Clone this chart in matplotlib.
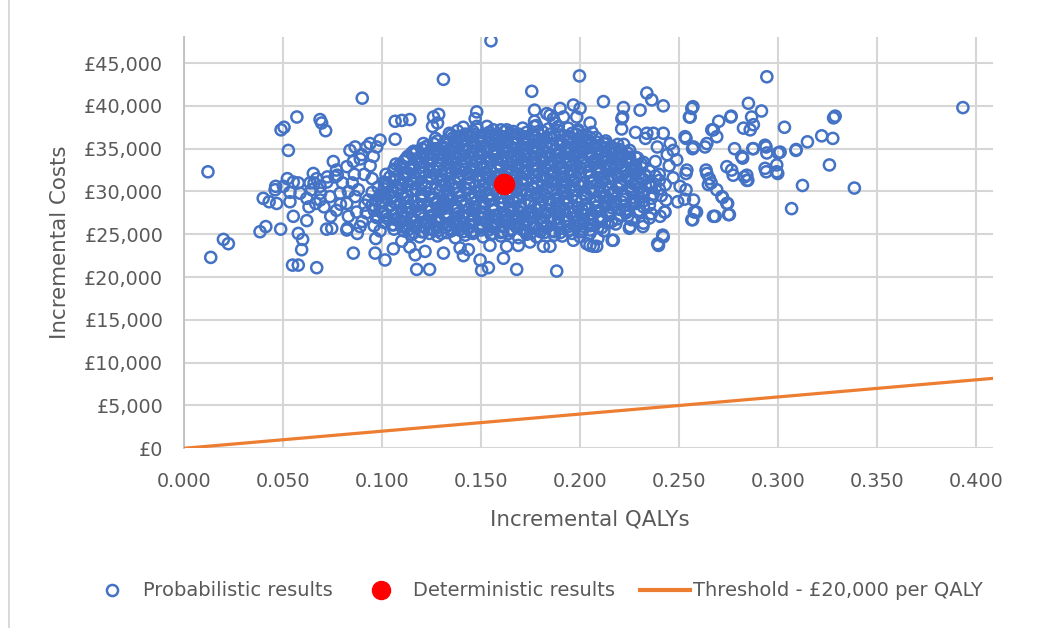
import matplotlib
matplotlib.use("Agg")
import matplotlib.pyplot as plt
from matplotlib.lines import Line2D
from matplotlib.ticker import FuncFormatter, MultipleLocator
import numpy as np

BLUE = "#4472C4"; RED = "#FF0000"; ORANGE = "#ED7D31"
TXT = "#595959"; GRID = "#D6D6D6"; AXIS = "#BFBFBF"
plt.rcParams["font.family"] = "DejaVu Sans"

# probabilistic (PSA) results: incremental QALYs and incremental costs (£ thousands)
prob_qalys = [
    # outliers / fringe
    0.0121, 0.0135, 0.0199, 0.0224, 0.0384, 0.0413, 0.0488, 0.0400, 0.0430, 0.0468,
    0.0460, 0.0522, 0.0535, 0.0577, 0.0527, 0.0490, 0.0505, 0.0570, 0.0687, 0.0695,
    0.0715, 0.0548, 0.0577, 0.0670, 0.0577, 0.0599, 0.0594, 0.0552, 0.0620, 0.0720,
    0.0900, 0.1310, 0.1550, 0.0631, 0.0665, 0.0707, 0.0690, 0.0657, 0.0724, 0.0774,
    0.0741, 0.0825, 0.0875, 0.0968, 0.0855, 0.0965, 0.1015, 0.1057, 0.1140, 0.1175,
    0.1240, 0.1066, 0.1100, 0.1140, 0.1066, 0.1260, 0.1286, 0.1280, 0.1255, 0.0463,
    0.0653, 0.0670, 0.0687, 0.0645, 0.0721, 0.0754, 0.0770, 0.0763, 0.0822, 0.0855,
    0.0838, 0.0864, 0.0923, 0.0939, 0.0897, 0.0956, 0.0737, 0.0788, 0.0822, 0.0864,
    0.0770, 0.0830, 0.0872, 0.0914, 0.0889, 0.0822, 0.0746, 0.0687, 0.0620, 0.0636,
    0.0552, 0.0586, 0.0535, 0.0502, 0.0973, 0.0990, 0.0850, 0.0880, 0.0910, 0.0930,
    0.0950, 0.0970, 0.0900, 0.0940, 0.0800, 0.0830, 0.0790, 0.0860, 0.0920, 0.0960,
    0.0990, 0.0890, 0.1478, 0.1470, 0.1770, 0.1770, 0.1768, 0.1899, 0.1966, 0.2000,
    0.1848, 0.1916, 0.1756, 0.1997, 0.2118, 0.2337, 0.2362, 0.2420, 0.2564, 0.2556,
    0.2219, 0.2211, 0.2303, 0.1983, 0.2050, 0.1832, 0.1865, 0.1874, 0.1150, 0.1478,
    0.1562, 0.1630, 0.1663, 0.1790, 0.1377, 0.1209, 0.2370, 0.2420, 0.2455, 0.2530,
    0.2471, 0.2573, 0.2640, 0.2673, 0.2700, 0.2488, 0.2539, 0.2505, 0.2573, 0.2640,
    0.2690, 0.2253, 0.2320, 0.2404, 0.2429, 0.2564, 0.2588, 0.2682, 0.2396, 0.2420,
    0.1495, 0.1503, 0.1537, 0.1613, 0.1680, 0.1882, 0.2168, 0.2084, 0.2034, 0.1966,
    0.2943, 0.3933, 0.3288, 0.3280, 0.2850, 0.2916, 0.2866, 0.2875, 0.2825, 0.2859,
    0.3032, 0.2761, 0.2665, 0.2690, 0.2631, 0.3220, 0.3148, 0.3090, 0.3276, 0.2780,
    0.2875, 0.2934, 0.2943, 0.3000, 0.2816, 0.3259, 0.2993, 0.2993, 0.2934, 0.2842,
    0.2842, 0.2741, 0.2765, 0.2773, 0.2648, 0.3123, 0.3385, 0.3068, 0.2716, 0.2741,
    0.2749, 0.2673, 0.2535, 0.2568, 0.2535, 0.2636, 0.2653, 0.2662, 0.2830, 0.2847,
    0.2940, 0.2998, 0.2417, 0.2392, 0.2162, 0.2249, 0.2317, 0.2350, 0.2232, 0.2426,
    0.2434, 0.2493, 0.2527, 0.2535, 0.2090, 0.2577, 0.2569, 0.2754, 0.2720, 0.2745,
    0.3010, 0.2821, 0.2872, 0.2939, 0.3091, 0.1167, 0.1310, 0.1411, 0.1815, 0.1848,
    0.2050, 0.2067, 0.1217, 0.1394, 0.1436, 0.1545, 0.1629, 0.1688, 0.1747, 0.1100,
    0.2220, 0.2250, 0.2280, 0.2310, 0.2260, 0.2330, 0.2290, 0.2360, 0.2320, 0.2270,
    0.2350, 0.2300, 0.2380, 0.2400, 0.2430, 0.2410, 0.2450, 0.2470, 0.2390, 0.2330,
    0.2440, 0.2360, 0.2260, 0.2280, 0.2210, 0.2337, 0.2215, 0.2570, 0.2552, 0.2763,
    # dense core, first layer
    0.115, 0.119, 0.124, 0.128, 0.133, 0.137, 0.142, 0.146, 0.151, 0.155,
    0.160, 0.164, 0.169, 0.173, 0.178, 0.182, 0.187, 0.191, 0.196, 0.200,
    0.106, 0.110, 0.113, 0.117, 0.121, 0.124, 0.128, 0.132, 0.135, 0.139,
    0.143, 0.146, 0.150, 0.154, 0.157, 0.161, 0.165, 0.168, 0.172, 0.176,
    0.179, 0.183, 0.187, 0.190, 0.194, 0.198, 0.201, 0.205, 0.209, 0.212,
    0.101, 0.105, 0.109, 0.113, 0.117, 0.121, 0.125, 0.129, 0.133, 0.137,
    0.141, 0.145, 0.149, 0.153, 0.157, 0.161, 0.165, 0.169, 0.173, 0.177,
    0.181, 0.185, 0.189, 0.193, 0.197, 0.202, 0.206, 0.210, 0.214, 0.218,
    0.098, 0.102, 0.107, 0.111, 0.115, 0.120, 0.124, 0.128, 0.133, 0.137,
    0.141, 0.146, 0.150, 0.154, 0.159, 0.163, 0.167, 0.172, 0.176, 0.180,
    0.185, 0.189, 0.193, 0.198, 0.202, 0.206, 0.211, 0.215, 0.219, 0.224,
    0.096, 0.101, 0.105, 0.110, 0.114, 0.119, 0.124, 0.128, 0.133, 0.137,
    0.142, 0.146, 0.151, 0.156, 0.160, 0.165, 0.169, 0.174, 0.178, 0.183,
    0.188, 0.192, 0.197, 0.201, 0.206, 0.210, 0.215, 0.220, 0.224, 0.229,
    0.095, 0.100, 0.104, 0.109, 0.114, 0.119, 0.123, 0.128, 0.133, 0.137,
    0.142, 0.147, 0.152, 0.156, 0.161, 0.166, 0.170, 0.175, 0.180, 0.185,
    0.189, 0.194, 0.199, 0.203, 0.208, 0.213, 0.218, 0.222, 0.227, 0.232,
    0.097, 0.102, 0.106, 0.111, 0.116, 0.121, 0.126, 0.131, 0.135, 0.140,
    0.145, 0.150, 0.155, 0.160, 0.164, 0.169, 0.174, 0.179, 0.184, 0.189,
    0.193, 0.198, 0.203, 0.208, 0.213, 0.218, 0.222, 0.227, 0.232, 0.236,
    0.095, 0.100, 0.105, 0.110, 0.115, 0.120, 0.124, 0.129, 0.134, 0.139,
    0.144, 0.149, 0.154, 0.158, 0.163, 0.168, 0.173, 0.178, 0.183, 0.188,
    0.192, 0.197, 0.202, 0.207, 0.212, 0.217, 0.222, 0.226, 0.231, 0.237,
    0.098, 0.103, 0.108, 0.113, 0.117, 0.122, 0.127, 0.132, 0.137, 0.142,
    0.147, 0.152, 0.156, 0.161, 0.166, 0.171, 0.176, 0.181, 0.186, 0.191,
    0.195, 0.200, 0.205, 0.210, 0.215, 0.220, 0.225, 0.230, 0.235, 0.240,
    0.101, 0.106, 0.110, 0.115, 0.120, 0.125, 0.130, 0.134, 0.139, 0.144,
    0.149, 0.154, 0.159, 0.163, 0.168, 0.173, 0.178, 0.183, 0.187, 0.192,
    0.197, 0.202, 0.207, 0.211, 0.216, 0.221, 0.226, 0.231, 0.235, 0.240,
    0.102, 0.107, 0.111, 0.116, 0.121, 0.125, 0.130, 0.135, 0.139, 0.144,
    0.149, 0.153, 0.158, 0.163, 0.167, 0.172, 0.177, 0.181, 0.186, 0.191,
    0.195, 0.200, 0.205, 0.209, 0.214, 0.219, 0.223, 0.228, 0.233, 0.238,
    0.106, 0.110, 0.115, 0.119, 0.124, 0.128, 0.133, 0.137, 0.142, 0.146,
    0.151, 0.155, 0.160, 0.164, 0.169, 0.173, 0.178, 0.182, 0.187, 0.191,
    0.196, 0.200, 0.205, 0.209, 0.214, 0.218, 0.223, 0.227, 0.231, 0.235,
    0.107, 0.111, 0.116, 0.120, 0.124, 0.129, 0.133, 0.137, 0.142, 0.146,
    0.150, 0.155, 0.159, 0.163, 0.168, 0.172, 0.176, 0.181, 0.185, 0.189,
    0.194, 0.198, 0.202, 0.207, 0.211, 0.215, 0.220, 0.224, 0.228, 0.232,
    0.113, 0.117, 0.121, 0.125, 0.129, 0.133, 0.137, 0.141, 0.145, 0.149,
    0.153, 0.157, 0.161, 0.165, 0.169, 0.173, 0.177, 0.181, 0.185, 0.189,
    0.193, 0.197, 0.201, 0.205, 0.209, 0.213, 0.217, 0.221, 0.225, 0.229,
    0.116, 0.120, 0.124, 0.127, 0.131, 0.135, 0.139, 0.142, 0.146, 0.150,
    0.153, 0.157, 0.161, 0.164, 0.168, 0.172, 0.176, 0.179, 0.183, 0.187,
    0.190, 0.194, 0.198, 0.201, 0.205, 0.209, 0.213, 0.216, 0.220, 0.224,
    0.123, 0.126, 0.130, 0.133, 0.136, 0.140, 0.143, 0.146, 0.150, 0.153,
    0.156, 0.160, 0.163, 0.166, 0.170, 0.173, 0.176, 0.180, 0.183, 0.186,
    0.190, 0.193, 0.196, 0.200, 0.203, 0.206, 0.210, 0.213, 0.216, 0.219,
    0.127, 0.132, 0.136, 0.141, 0.145, 0.150, 0.154, 0.159, 0.163, 0.168,
    0.172, 0.177, 0.181, 0.186, 0.190, 0.195, 0.199, 0.204, 0.208, 0.213,
    0.134, 0.138, 0.142, 0.146, 0.150, 0.154, 0.158, 0.162, 0.165, 0.169,
    0.173, 0.177, 0.181, 0.185, 0.189, 0.192, 0.196, 0.199, 0.203, 0.206,
    0.141, 0.148, 0.153, 0.160, 0.171, 0.178, 0.184, 0.189, 0.194, 0.199,
    # dense core, second layer
    0.111, 0.116, 0.120, 0.126, 0.130, 0.135, 0.141, 0.145, 0.150, 0.156,
    0.160, 0.165, 0.171, 0.175, 0.180, 0.186, 0.190, 0.195, 0.201, 0.205,
    0.106, 0.112, 0.117, 0.123, 0.128, 0.134, 0.139, 0.145, 0.150, 0.156,
    0.161, 0.167, 0.172, 0.178, 0.183, 0.189, 0.194, 0.200, 0.205, 0.211,
    0.103, 0.109, 0.115, 0.121, 0.127, 0.133, 0.139, 0.145, 0.151, 0.157,
    0.163, 0.169, 0.175, 0.181, 0.187, 0.193, 0.199, 0.205, 0.211, 0.216,
    0.100, 0.106, 0.113, 0.119, 0.125, 0.132, 0.138, 0.144, 0.151, 0.157,
    0.163, 0.170, 0.176, 0.182, 0.189, 0.195, 0.201, 0.208, 0.214, 0.220,
    0.099, 0.105, 0.112, 0.118, 0.125, 0.131, 0.138, 0.144, 0.151, 0.157,
    0.164, 0.170, 0.177, 0.183, 0.190, 0.196, 0.203, 0.209, 0.216, 0.223,
    0.100, 0.107, 0.113, 0.120, 0.127, 0.134, 0.140, 0.147, 0.154, 0.161,
    0.167, 0.174, 0.181, 0.188, 0.194, 0.201, 0.208, 0.215, 0.221, 0.228,
    0.099, 0.106, 0.113, 0.120, 0.126, 0.133, 0.140, 0.147, 0.154, 0.161,
    0.168, 0.175, 0.182, 0.189, 0.196, 0.203, 0.210, 0.216, 0.223, 0.230,
    0.101, 0.108, 0.115, 0.122, 0.129, 0.136, 0.143, 0.150, 0.157, 0.164,
    0.170, 0.177, 0.184, 0.191, 0.198, 0.205, 0.212, 0.219, 0.226, 0.232,
    0.102, 0.109, 0.116, 0.123, 0.130, 0.137, 0.144, 0.151, 0.158, 0.165,
    0.171, 0.178, 0.185, 0.192, 0.199, 0.206, 0.213, 0.220, 0.227, 0.233,
    0.104, 0.111, 0.117, 0.124, 0.131, 0.138, 0.144, 0.151, 0.158, 0.165,
    0.171, 0.178, 0.185, 0.192, 0.198, 0.205, 0.212, 0.219, 0.225, 0.232,
    0.106, 0.113, 0.119, 0.126, 0.132, 0.139, 0.145, 0.152, 0.158, 0.165,
    0.171, 0.178, 0.184, 0.191, 0.197, 0.204, 0.210, 0.217, 0.223, 0.230,
    0.109, 0.115, 0.121, 0.128, 0.134, 0.140, 0.146, 0.153, 0.159, 0.165,
    0.171, 0.178, 0.184, 0.190, 0.196, 0.203, 0.209, 0.215, 0.221, 0.228,
    0.112, 0.118, 0.124, 0.130, 0.136, 0.142, 0.148, 0.154, 0.160, 0.166,
    0.171, 0.177, 0.183, 0.189, 0.195, 0.201, 0.207, 0.213, 0.219, 0.225,
    0.117, 0.123, 0.128, 0.134, 0.139, 0.145, 0.150, 0.156, 0.161, 0.167,
    0.172, 0.178, 0.183, 0.189, 0.194, 0.200, 0.205, 0.211, 0.216, 0.222,
    0.122, 0.127, 0.132, 0.137, 0.142, 0.147, 0.152, 0.157, 0.162, 0.167,
    0.172, 0.177, 0.183, 0.188, 0.193, 0.198, 0.203, 0.208, 0.213, 0.218,
    0.128, 0.132, 0.137, 0.141, 0.146, 0.150, 0.155, 0.159, 0.163, 0.168,
    0.172, 0.177, 0.181, 0.186, 0.190, 0.194, 0.199, 0.203, 0.208, 0.212,
    0.135, 0.139, 0.143, 0.146, 0.150, 0.154, 0.157, 0.161, 0.165, 0.168,
    0.172, 0.176, 0.179, 0.183, 0.187, 0.190, 0.194, 0.198, 0.201, 0.205,
]
prob_costs_k = [
    32.3, 22.3, 24.4, 23.9, 25.3, 25.9, 25.6, 29.2, 28.8, 28.6,
    30.2, 31.5, 29.9, 31.0, 34.8, 37.2, 37.5, 38.7, 38.4, 38.0,
    37.1, 21.4, 21.4, 21.1, 25.1, 24.4, 23.2, 27.1, 26.6, 25.6,
    40.9, 43.1, 47.6, 28.2, 28.6, 28.2, 29.8, 31.0, 31.7, 31.9,
    27.1, 25.7, 25.1, 24.5, 22.8, 22.8, 22.0, 23.3, 23.5, 20.9,
    20.9, 38.2, 38.3, 38.4, 36.1, 38.7, 39.0, 38.0, 37.6, 30.6,
    32.1, 31.5, 30.6, 30.2, 31.1, 33.5, 32.5, 31.7, 32.9, 33.5,
    34.8, 35.2, 35.2, 35.6, 34.3, 34.1, 29.4, 29.8, 28.6, 29.4,
    27.8, 27.1, 27.6, 28.4, 25.9, 25.5, 25.7, 29.0, 29.2, 31.0,
    31.1, 29.8, 28.8, 30.6, 35.2, 36.0, 31.0, 30.2, 32.0, 29.0,
    31.5, 27.0, 26.5, 33.0, 31.0, 30.0, 28.5, 32.0, 27.5, 26.0,
    25.4, 33.8, 39.3, 38.5, 39.5, 38.2, 37.6, 39.7, 40.1, 39.7,
    38.9, 38.7, 41.7, 43.5, 40.5, 41.5, 40.7, 40.0, 39.7, 38.7,
    39.8, 38.5, 39.5, 38.7, 38.0, 39.1, 38.5, 38.0, 34.5, 37.6,
    37.2, 37.2, 37.0, 36.0, 36.4, 35.6, 36.8, 36.8, 35.6, 36.4,
    34.8, 35.2, 35.6, 37.2, 38.2, 33.7, 32.5, 30.6, 29.0, 32.1,
    30.2, 25.9, 26.3, 27.1, 27.6, 26.7, 27.6, 27.1, 23.7, 24.7,
    22.0, 20.8, 21.1, 22.2, 20.9, 20.7, 24.3, 23.6, 23.9, 24.3,
    43.4, 39.8, 38.8, 38.6, 40.3, 39.4, 38.7, 37.8, 37.4, 37.2,
    37.5, 38.7, 37.2, 36.4, 35.2, 36.5, 35.8, 34.8, 36.2, 35.0,
    35.0, 35.4, 34.5, 34.5, 34.1, 33.1, 33.1, 32.3, 32.7, 31.9,
    31.3, 32.9, 32.5, 31.9, 30.8, 30.7, 30.4, 28.0, 29.4, 28.6,
    27.3, 27.1, 36.2, 35.0, 32.1, 32.5, 31.5, 31.0, 31.7, 31.3,
    32.3, 32.1, 24.9, 23.9, 24.3, 25.7, 25.9, 26.9, 27.5, 27.6,
    29.0, 28.8, 29.1, 30.2, 24.5, 27.6, 26.7, 27.3, 29.3, 28.6,
    34.6, 33.9, 35.0, 35.2, 34.9, 22.6, 22.8, 22.5, 23.6, 23.6,
    23.7, 23.6, 23.0, 23.4, 23.2, 23.7, 23.6, 23.7, 24.1, 24.2,
    35.5, 34.8, 34.0, 33.2, 32.5, 31.8, 31.0, 30.5, 29.8, 29.0,
    28.4, 27.8, 33.5, 32.0, 30.8, 29.5, 33.0, 31.6, 35.2, 36.2,
    34.3, 27.4, 26.7, 36.9, 37.3, 36.8, 38.7, 39.9, 38.7, 38.8,
    # dense core, first layer
    25.0, 24.7, 25.1, 24.8, 25.2, 24.6, 24.9, 25.1, 24.7, 25.0,
    24.8, 25.1, 24.6, 25.0, 24.7, 25.2, 24.9, 24.8, 25.1, 24.7,
    25.6, 25.9, 25.5, 25.8, 25.3, 25.7, 25.4, 25.8, 25.6, 25.5,
    25.7, 25.4, 25.8, 25.5, 25.9, 25.3, 25.6, 25.8, 25.4, 25.7,
    25.5, 25.8, 25.3, 25.7, 25.4, 25.9, 25.6, 25.5, 25.8, 25.4,
    26.4, 26.1, 26.5, 26.2, 26.6, 26.0, 26.3, 26.5, 26.1, 26.4,
    26.2, 26.5, 26.0, 26.4, 26.1, 26.6, 26.3, 26.2, 26.5, 26.1,
    26.3, 26.6, 26.2, 26.5, 26.0, 26.4, 26.1, 26.5, 26.3, 26.2,
    26.9, 27.2, 26.7, 27.1, 26.8, 27.3, 27.0, 26.9, 27.2, 26.8,
    27.0, 27.3, 26.9, 27.2, 26.7, 27.1, 26.8, 27.2, 27.0, 26.9,
    27.1, 26.8, 27.2, 26.9, 27.3, 26.7, 27.0, 27.2, 26.8, 27.1,
    27.8, 27.5, 27.9, 27.6, 28.0, 27.4, 27.7, 27.9, 27.5, 27.8,
    27.6, 27.9, 27.4, 27.8, 27.5, 28.0, 27.7, 27.6, 27.9, 27.5,
    27.7, 28.0, 27.6, 27.9, 27.4, 27.8, 27.5, 27.9, 27.7, 27.6,
    28.4, 28.7, 28.3, 28.6, 28.1, 28.5, 28.2, 28.6, 28.4, 28.3,
    28.5, 28.2, 28.6, 28.3, 28.7, 28.1, 28.4, 28.6, 28.2, 28.5,
    28.3, 28.6, 28.1, 28.5, 28.2, 28.7, 28.4, 28.3, 28.6, 28.2,
    29.0, 29.3, 28.8, 29.2, 28.9, 29.4, 29.1, 29.0, 29.3, 28.9,
    29.1, 29.4, 29.0, 29.3, 28.8, 29.2, 28.9, 29.3, 29.1, 29.0,
    29.2, 28.9, 29.3, 29.0, 29.4, 28.8, 29.1, 29.3, 28.9, 29.2,
    29.9, 29.6, 30.0, 29.7, 30.1, 29.5, 29.8, 30.0, 29.6, 29.9,
    29.7, 30.0, 29.5, 29.9, 29.6, 30.1, 29.8, 29.7, 30.0, 29.6,
    29.8, 30.1, 29.7, 30.0, 29.5, 29.9, 29.6, 30.0, 29.8, 29.7,
    30.5, 30.8, 30.4, 30.7, 30.2, 30.6, 30.3, 30.7, 30.5, 30.4,
    30.6, 30.3, 30.7, 30.4, 30.8, 30.2, 30.5, 30.7, 30.3, 30.6,
    30.4, 30.7, 30.2, 30.6, 30.3, 30.8, 30.5, 30.4, 30.7, 30.3,
    31.1, 31.4, 30.9, 31.3, 31.0, 31.5, 31.2, 31.1, 31.4, 31.0,
    31.2, 31.5, 31.1, 31.4, 30.9, 31.3, 31.0, 31.4, 31.2, 31.1,
    31.3, 31.0, 31.4, 31.1, 31.5, 30.9, 31.2, 31.4, 31.0, 31.3,
    32.0, 31.7, 32.1, 31.8, 32.2, 31.6, 31.9, 32.1, 31.7, 32.0,
    31.8, 32.1, 31.6, 32.0, 31.7, 32.2, 31.9, 31.8, 32.1, 31.7,
    31.9, 32.2, 31.8, 32.1, 31.6, 32.0, 31.7, 32.1, 31.9, 31.8,
    32.6, 32.9, 32.5, 32.8, 32.3, 32.7, 32.4, 32.8, 32.6, 32.5,
    32.7, 32.4, 32.8, 32.5, 32.9, 32.3, 32.6, 32.8, 32.4, 32.7,
    32.5, 32.8, 32.3, 32.7, 32.4, 32.9, 32.6, 32.5, 32.8, 32.4,
    33.2, 33.5, 33.0, 33.4, 33.1, 33.6, 33.3, 33.2, 33.5, 33.1,
    33.3, 33.6, 33.2, 33.5, 33.0, 33.4, 33.1, 33.5, 33.3, 33.2,
    33.4, 33.1, 33.5, 33.2, 33.6, 33.0, 33.3, 33.5, 33.1, 33.4,
    34.1, 33.8, 34.2, 33.9, 34.3, 33.7, 34.0, 34.2, 33.8, 34.1,
    33.9, 34.2, 33.7, 34.1, 33.8, 34.3, 34.0, 33.9, 34.2, 33.8,
    34.0, 34.3, 33.9, 34.2, 33.7, 34.1, 33.8, 34.2, 34.0, 33.9,
    34.7, 35.0, 34.6, 34.9, 34.4, 34.8, 34.5, 34.9, 34.7, 34.6,
    34.8, 34.5, 34.9, 34.6, 35.0, 34.4, 34.7, 34.9, 34.5, 34.8,
    34.6, 34.9, 34.4, 34.8, 34.5, 35.0, 34.7, 34.6, 34.9, 34.5,
    35.3, 35.6, 35.1, 35.5, 35.2, 35.7, 35.4, 35.3, 35.6, 35.2,
    35.4, 35.7, 35.3, 35.6, 35.1, 35.5, 35.2, 35.6, 35.4, 35.3,
    35.5, 35.2, 35.6, 35.3, 35.7, 35.1, 35.4, 35.6, 35.2, 35.5,
    36.2, 35.9, 36.3, 36.0, 36.4, 35.8, 36.1, 36.3, 35.9, 36.2,
    36.0, 36.3, 35.8, 36.2, 35.9, 36.4, 36.1, 36.0, 36.3, 35.9,
    36.8, 37.1, 36.7, 37.0, 36.5, 36.9, 36.6, 37.0, 36.8, 36.7,
    36.9, 36.6, 37.0, 36.7, 37.1, 36.5, 36.8, 37.0, 36.6, 36.9,
    37.5, 37.3, 37.6, 37.2, 37.4, 37.7, 37.3, 37.6, 37.4, 37.2,
    # dense core, second layer
    25.4, 25.2, 25.3, 25.5, 25.1, 25.4, 25.3, 25.2, 25.5, 25.1,
    25.2, 25.4, 25.5, 25.1, 25.3, 25.4, 25.2, 25.5, 25.3, 25.1,
    26.1, 25.9, 26.0, 26.2, 25.8, 26.1, 26.0, 25.9, 26.2, 25.8,
    25.9, 26.1, 26.2, 25.8, 26.0, 26.1, 25.9, 26.2, 26.0, 25.8,
    26.8, 26.6, 26.7, 26.9, 26.5, 26.8, 26.7, 26.6, 26.9, 26.5,
    26.6, 26.8, 26.9, 26.5, 26.7, 26.8, 26.6, 26.9, 26.7, 26.5,
    27.5, 27.3, 27.4, 27.6, 27.2, 27.5, 27.4, 27.3, 27.6, 27.2,
    27.3, 27.5, 27.6, 27.2, 27.4, 27.5, 27.3, 27.6, 27.4, 27.2,
    28.2, 28.0, 28.1, 28.3, 27.9, 28.2, 28.1, 28.0, 28.3, 27.9,
    28.0, 28.2, 28.3, 27.9, 28.1, 28.2, 28.0, 28.3, 28.1, 27.9,
    28.9, 28.7, 28.8, 29.0, 28.6, 28.9, 28.8, 28.7, 29.0, 28.6,
    28.7, 28.9, 29.0, 28.6, 28.8, 28.9, 28.7, 29.0, 28.8, 28.6,
    29.6, 29.4, 29.5, 29.7, 29.3, 29.6, 29.5, 29.4, 29.7, 29.3,
    29.4, 29.6, 29.7, 29.3, 29.5, 29.6, 29.4, 29.7, 29.5, 29.3,
    30.3, 30.1, 30.2, 30.4, 30.0, 30.3, 30.2, 30.1, 30.4, 30.0,
    30.1, 30.3, 30.4, 30.0, 30.2, 30.3, 30.1, 30.4, 30.2, 30.0,
    31.0, 30.8, 30.9, 31.1, 30.7, 31.0, 30.9, 30.8, 31.1, 30.7,
    30.8, 31.0, 31.1, 30.7, 30.9, 31.0, 30.8, 31.1, 30.9, 30.7,
    31.7, 31.5, 31.6, 31.8, 31.4, 31.7, 31.6, 31.5, 31.8, 31.4,
    31.5, 31.7, 31.8, 31.4, 31.6, 31.7, 31.5, 31.8, 31.6, 31.4,
    32.4, 32.2, 32.3, 32.5, 32.1, 32.4, 32.3, 32.2, 32.5, 32.1,
    32.2, 32.4, 32.5, 32.1, 32.3, 32.4, 32.2, 32.5, 32.3, 32.1,
    33.1, 32.9, 33.0, 33.2, 32.8, 33.1, 33.0, 32.9, 33.2, 32.8,
    32.9, 33.1, 33.2, 32.8, 33.0, 33.1, 32.9, 33.2, 33.0, 32.8,
    33.8, 33.6, 33.7, 33.9, 33.5, 33.8, 33.7, 33.6, 33.9, 33.5,
    33.6, 33.8, 33.9, 33.5, 33.7, 33.8, 33.6, 33.9, 33.7, 33.5,
    34.5, 34.3, 34.4, 34.6, 34.2, 34.5, 34.4, 34.3, 34.6, 34.2,
    34.3, 34.5, 34.6, 34.2, 34.4, 34.5, 34.3, 34.6, 34.4, 34.2,
    35.2, 35.0, 35.1, 35.3, 34.9, 35.2, 35.1, 35.0, 35.3, 34.9,
    35.0, 35.2, 35.3, 34.9, 35.1, 35.2, 35.0, 35.3, 35.1, 34.9,
    35.9, 35.7, 35.8, 36.0, 35.6, 35.9, 35.8, 35.7, 36.0, 35.6,
    35.7, 35.9, 36.0, 35.6, 35.8, 35.9, 35.7, 36.0, 35.8, 35.6,
    36.6, 36.4, 36.5, 36.7, 36.3, 36.6, 36.5, 36.4, 36.7, 36.3,
    36.4, 36.6, 36.7, 36.3, 36.5, 36.6, 36.4, 36.7, 36.5, 36.3,
]
assert len(prob_qalys) == len(prob_costs_k), (len(prob_qalys), len(prob_costs_k))

det_qaly = [0.1618]
det_cost = [30900]

threshold_qalys = [0.0, 0.4085]
threshold_costs = [0, 8170]

W, H = 1037, 628
fig = plt.figure(figsize=(W / 100, H / 100), dpi=100)
ax = fig.add_axes([184 / W, 1 - 448.3 / H, (993 - 184) / W, (448.3 - 36.7) / H])

ax.scatter(prob_qalys, np.array(prob_costs_k) * 1000, s=64, facecolors="none",
           edgecolors=BLUE, linewidths=1.8, zorder=3)
ax.scatter(det_qaly, det_cost, s=210, color=RED, zorder=5)
ax.plot(threshold_qalys, threshold_costs, color=ORANGE, linewidth=2.3, zorder=4)

ax.set_xlim(0, 0.4085)
ax.set_ylim(0, 48080)
ax.xaxis.set_major_locator(MultipleLocator(0.05))
ax.yaxis.set_major_locator(MultipleLocator(5000))
ax.xaxis.set_major_formatter(FuncFormatter(lambda v, _: f"{v:.3f}"))
ax.yaxis.set_major_formatter(FuncFormatter(lambda v, _: f"£{v:,.0f}"))
for side in ["top", "right", "bottom"]:
    ax.spines[side].set_visible(False)
ax.spines["left"].set_color(AXIS)
ax.spines["left"].set_linewidth(1.3)
ax.tick_params(length=0, labelsize=13.8, labelcolor=TXT)
ax.tick_params(axis="x", pad=17)
ax.tick_params(axis="y", pad=15)
ax.set_axisbelow(True)
ax.grid(True, color=GRID, linewidth=1.5)

fig.text(590 / W, 1 - 520 / H, "Incremental QALYs", fontsize=15.4, color=TXT,
         ha="center", va="center")
fig.text(60 / W, 1 - 242 / H, "Incremental Costs", fontsize=15.4, color=TXT,
         ha="center", va="center", rotation=90)

# legend row drawn by hand to match spacing
ly = 1 - 590 / H
fig.add_artist(Line2D([112 / W], [ly], marker="o", linestyle="none", markerfacecolor="none",
                      markeredgecolor=BLUE, markeredgewidth=1.8, markersize=8,
                      transform=fig.transFigure))
fig.text(143 / W, ly, "Probabilistic results", fontsize=14, color=TXT, va="center")
fig.add_artist(Line2D([381 / W], [ly], marker="o", linestyle="none", color=RED,
                      markersize=13, transform=fig.transFigure))
fig.text(413 / W, ly, "Deterministic results", fontsize=14, color=TXT, va="center")
fig.add_artist(Line2D([640 / W, 690 / W], [ly, ly], color=ORANGE, linewidth=3,
                      transform=fig.transFigure))
fig.text(693 / W, ly, "Threshold - £20,000 per QALY", fontsize=14, color=TXT, va="center")

fig.add_artist(Line2D([9 / W, 9 / W], [0, 1], color=GRID, linewidth=1.3,
                      transform=fig.transFigure))

fig.savefig("out.png", dpi=100)
